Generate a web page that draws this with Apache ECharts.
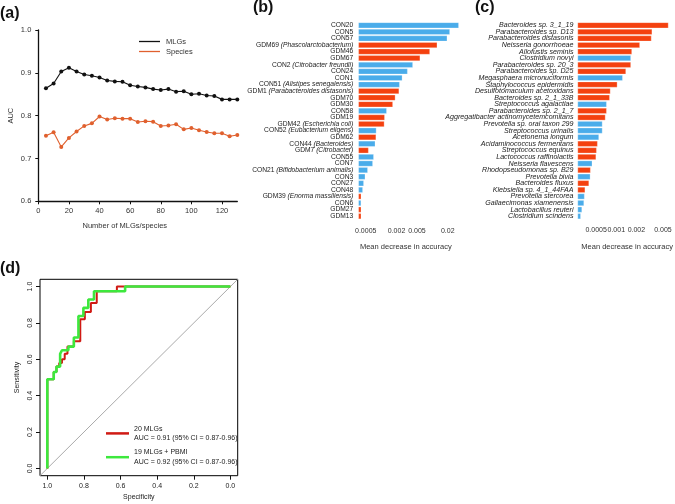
<!DOCTYPE html>
<html><head><meta charset="utf-8">
<script src="https://cdn.jsdelivr.net/npm/echarts@6/dist/echarts.min.js"></script>
<style>html,body{margin:0;padding:0;background:#fff}#c{width:675px;height:504px}</style>
</head><body><div id="c"></div>
<script>
// ---------- panel (a) ----------
const nFeatures = [5,10,15,20,25,30,35,40,45,50,55,60,65,70,75,80,85,90,95,100,105,110,115,120,125,130];
const aucMLGs = [0.864,0.875,0.903,0.912,0.903,0.896,0.893,0.889,0.882,0.880,0.879,0.871,0.868,0.866,0.862,0.860,0.862,0.856,0.857,0.850,0.851,0.847,0.846,0.838,0.838,0.838];
const aucSpecies = [0.753,0.761,0.727,0.748,0.763,0.776,0.782,0.798,0.791,0.794,0.793,0.793,0.785,0.787,0.786,0.776,0.777,0.780,0.768,0.771,0.766,0.762,0.759,0.759,0.752,0.755];
const aTicksX = [0,20,40,60,80,100,120];

// ---------- panel (b) ----------
const bNames = ['CON20','CON5','CON57','GDM69','GDM46','GDM67','CON2','CON24','CON1','CON51','GDM1','GDM70','GDM30','CON58','GDM19','GDM42','CON52','GDM62','CON44','GDM7','CON55','CON7','CON21','CON3','CON27','CON48','GDM39','CON6','GDM27','GDM13'];
const bTaxa = ['','','','Phascolarctobacterium','','','Citrobacter freundii','','','Alistipes senegalensis','Parabacteroides distasonis','','','','','Escherichia coli','Eubacterium eligens','','Bacteroides','Citrobacter','','','Bifidobacterium animalis','','','','Enorma massiliensis','','',''];
const bValues = [0.033,0.0221,0.0196,0.0125,0.0090,0.0058,0.00418,0.0033,0.0026,0.00231,0.00225,0.0019,0.0017,0.00129,0.00118,0.00116,0.00081,0.0008,0.00077,0.00057,0.00072,0.00069,0.00055,0.00049,0.00046,0.00044,0.00041,0.000408,0.00041,0.00041];
const bTicks = [0.0005,0.002,0.005,0.02];
const bRange = [0.000358,0.0257];

// ---------- panel (c) ----------
const cNames = ['Bacteroides sp. 3_1_19','Parabacteroides sp. D13','Parabacteroides distasonis','Neisseria gonorrhoeae','Allofustis seminis','Clostridium novyi','Parabacteroides sp. 20_3','Parabacteroides sp. D25','Megasphaera micronuciformis','Staphylococcus epidermidis','Desulfotomaculum acetoxidans','Bacteroides sp. 2_1_33B','Streptococcus agalactiae','Parabacteroides sp. 2_1_7','Aggregatibacter actinomycetemcomitans','Prevotella sp. oral taxon 299','Streptococcus urinalis','Acetonema longum','Acidaminococcus fermentans','Streptococcus equinus','Lactococcus raffinolactis','Neisseria flavescens','Rhodopseudomonas sp. B29','Prevotella bivia','Bacteroides fluxus','Klebsiella sp. 4_1_44FAA','Prevotella stercorea','Gallaecimonas xiamenensis','Lactobacillus reuteri','Clostridium scindens'];
const cGroup = ['GDM','GDM','GDM','GDM','GDM','CON','GDM','GDM','CON','GDM','GDM','GDM','CON','GDM','GDM','CON','CON','CON','GDM','GDM','GDM','CON','GDM','CON','GDM','GDM','CON','CON','CON','CON'];
const cValues = [0.00605,0.00345,0.00337,0.00226,0.00172,0.00166,0.00166,0.0014,0.00125,0.00104,0.00082,0.0008,0.00072,0.00072,0.00069,0.000622,0.000622,0.000552,0.000527,0.00051,0.0005,0.000438,0.000414,0.00041,0.000392,0.000343,0.000336,0.00033,0.000308,0.000295];
const cTicks = [0.0005,0.001,0.002,0.005];
const cRange = [0.000263,0.00532];

// ---------- panel (d) ----------
const rocRedSpec = [1,1,0.965,0.965,0.95,0.95,0.935,0.935,0.92,0.92,0.905,0.905,0.89,0.89,0.855,0.855,0.82,0.82,0.795,0.795,0.762,0.762,0.73,0.73,0.62,0.62,0];
const rocRedSens = [0,0.49,0.49,0.53,0.53,0.56,0.56,0.58,0.58,0.60,0.60,0.63,0.63,0.67,0.67,0.70,0.70,0.82,0.82,0.86,0.86,0.91,0.91,0.974,0.974,1,1];
const rocGreenSpec = [1,1,0.965,0.965,0.95,0.95,0.93,0.93,0.92,0.92,0.885,0.885,0.855,0.855,0.83,0.83,0.803,0.803,0.776,0.776,0.745,0.745,0.575,0.575,0];
const rocGreenSens = [0,0.49,0.49,0.53,0.53,0.56,0.56,0.63,0.63,0.65,0.65,0.67,0.67,0.72,0.72,0.838,0.838,0.883,0.883,0.929,0.929,0.974,0.974,1,1];
const rocTicks = [0,0.2,0.4,0.6,0.8,1.0];
const rocRange = [-0.04,1.04];
const rocLegend = {'20 MLGs':'AUC = 0.91 (95% CI = 0.87-0.96)','19 MLGs + PBMI':'AUC = 0.92 (95% CI = 0.87-0.96)'};

// ---------- styles ----------
const BLUE = '#4AACEA', RED = '#F4410F', ORANGE = '#E0602E';
const FONT = 'Liberation Sans';
const lg = (v, r) => Math.log10(v / r[0]);
const tickFmt = (ticks, r) => v => { const t = ticks.find(t => Math.abs(lg(t, r) - v) < 1e-6); return t === undefined ? '' : String(t); };
const pair = (a, b) => a.map((x, i) => [x, b[i]]);

const chart = echarts.init(document.getElementById('c'), null, {renderer: 'canvas'});
const labelStyle = {fontFamily: FONT, color: '#333'};
chart.setOption({
  animation: false,
  backgroundColor: '#fff',
  title: [
    {text: '(a)', left: 0, top: 6, padding: 0, textStyle: {fontFamily: FONT, fontSize: 16, fontWeight: 'bold', color: '#111'}},
    {text: '(b)', left: 253, top: 0, padding: 0, textStyle: {fontFamily: FONT, fontSize: 16, fontWeight: 'bold', color: '#111'}},
    {text: '(c)', left: 475, top: 0, padding: 0, textStyle: {fontFamily: FONT, fontSize: 16, fontWeight: 'bold', color: '#111'}},
    {text: '(d)', left: 0, top: 261, padding: 0, textStyle: {fontFamily: FONT, fontSize: 16, fontWeight: 'bold', color: '#111'}}
  ],
  legend: [
    {data: ['MLGs','Species'], orient: 'vertical', left: 139, top: 37.5, padding: 0, itemGap: 2, itemWidth: 21, itemHeight: 1.3, icon: 'rect',
     textStyle: {fontFamily: FONT, fontSize: 7.5, color: '#333', padding: [0,0,0,1]}},
    {data: ['20 MLGs','19 MLGs + PBMI'], orient: 'vertical', left: 106, top: 424, padding: 0, itemGap: 5, itemWidth: 23, itemHeight: 2.5, icon: 'rect',
     formatter: n => n + '\n' + rocLegend[n],
     textStyle: {fontFamily: FONT, fontSize: 7, lineHeight: 9.4, color: '#222'}}
  ],
  grid: [
    {left: 38.3, top: 30, width: 199, height: 171.3},
    {left: 358.3, top: 22, width: 95, height: 197.5},
    {left: 577.5, top: 22, width: 90.8, height: 197.5},
    {left: 40, top: 279.3, width: 197.7, height: 196.4, show: true, borderColor: '#000', borderWidth: 1, backgroundColor: 'transparent'}
  ],
  xAxis: [
    {gridIndex: 0, type: 'value', min: 0, max: 130, name: 'Number of MLGs/species', nameLocation: 'middle', nameGap: 21,
     nameTextStyle: {fontFamily: FONT, fontSize: 7.5, color: '#333', padding: [0, 26, 0, 0]},
     axisLine: {lineStyle: {color: '#111', width: 1.3}}, axisTick: {customValues: aTicksX, length: 3, lineStyle: {color: '#111'}},
     axisLabel: Object.assign({customValues: aTicksX, fontSize: 7.5, margin: 6}, labelStyle), splitLine: {show: false}},
    {gridIndex: 1, type: 'value', min: 0, max: lg(bRange[1], bRange), offset: 4.5, name: 'Mean decrease in accuracy', nameLocation: 'middle', nameGap: 19,
     nameTextStyle: {fontFamily: FONT, fontSize: 7.5, color: '#333'},
     axisLine: {lineStyle: {color: '#111', width: 1.2}}, axisTick: {customValues: bTicks.map(t => lg(t, bRange)), length: 3, lineStyle: {color: '#111'}},
     axisLabel: Object.assign({customValues: bTicks.map(t => lg(t, bRange)), fontSize: 7, margin: 4, formatter: tickFmt(bTicks, bRange)}, labelStyle), splitLine: {show: false}},
    {gridIndex: 2, type: 'value', min: 0, max: lg(cRange[1], cRange), offset: 3, name: 'Mean decrease in accuracy', nameLocation: 'middle', nameGap: 20,
     nameTextStyle: {fontFamily: FONT, fontSize: 7.5, color: '#333', padding: [0, 0, 0, 12]},
     axisLine: {lineStyle: {color: '#111', width: 1.2}}, axisTick: {customValues: cTicks.map(t => lg(t, cRange)), length: 3, lineStyle: {color: '#111'}},
     axisLabel: Object.assign({customValues: cTicks.map(t => lg(t, cRange)), fontSize: 7, margin: 4, formatter: tickFmt(cTicks, cRange)}, labelStyle), splitLine: {show: false}},
    {gridIndex: 3, type: 'value', inverse: true, min: rocRange[0], max: rocRange[1], name: 'Specificity', nameLocation: 'middle', nameGap: 18,
     nameTextStyle: {fontFamily: FONT, fontSize: 7, color: '#222'},
     axisLine: {show: false, onZero: false}, axisTick: {customValues: rocTicks, length: 4, lineStyle: {color: '#111'}},
     axisLabel: {customValues: rocTicks, fontFamily: FONT, fontSize: 7, color: '#222', margin: 7, formatter: v => v.toFixed(1)}, splitLine: {show: false}}
  ],
  yAxis: [
    {gridIndex: 0, type: 'value', min: 0.6, max: 1.0, interval: 0.1, name: 'AUC', nameLocation: 'middle', nameGap: 23,
     nameTextStyle: {fontFamily: FONT, fontSize: 7.5, color: '#333'},
     axisLine: {show: true, lineStyle: {color: '#111', width: 1.3}}, axisTick: {show: true, length: 3, lineStyle: {color: '#111'}},
     axisLabel: Object.assign({fontSize: 7.5, margin: 7, formatter: v => v.toFixed(1)}, labelStyle), splitLine: {show: false}},
    {gridIndex: 1, type: 'category', data: bNames, inverse: true, axisLine: {show: false}, axisTick: {show: false},
     axisLabel: {interval: 0, margin: 5, fontFamily: FONT, fontSize: 6.7, color: '#222',
       formatter: (v, i) => bTaxa[i] ? v + ' {i|(' + bTaxa[i] + ')}' : v,
       rich: {i: {fontFamily: FONT, fontSize: 6.7, fontStyle: 'italic', color: '#222'}}}},
    {gridIndex: 2, type: 'category', data: cNames, inverse: true, axisLine: {show: false}, axisTick: {show: false},
     axisLabel: {interval: 0, margin: 4, fontFamily: FONT, fontSize: 7.1, fontStyle: 'italic', color: '#222'}},
    {gridIndex: 3, type: 'value', min: rocRange[0], max: rocRange[1], name: 'Sensitivity', nameLocation: 'middle', nameGap: 19,
     nameTextStyle: {fontFamily: FONT, fontSize: 7, color: '#222'},
     axisLine: {show: false, onZero: false}, axisTick: {customValues: rocTicks, length: 4, lineStyle: {color: '#111'}},
     axisLabel: {customValues: rocTicks, rotate: 90, fontFamily: FONT, fontSize: 7, color: '#222', margin: 6, formatter: v => v.toFixed(1)}, splitLine: {show: false}}
  ],
  series: [
    {name: 'MLGs', type: 'line', xAxisIndex: 0, yAxisIndex: 0, data: pair(nFeatures, aucMLGs), symbol: 'circle', symbolSize: 4,
     itemStyle: {color: '#111'}, lineStyle: {color: '#111', width: 1.1}},
    {name: 'Species', type: 'line', xAxisIndex: 0, yAxisIndex: 0, data: pair(nFeatures, aucSpecies), symbol: 'circle', symbolSize: 4,
     itemStyle: {color: ORANGE}, lineStyle: {color: ORANGE, width: 1.1}},
    {type: 'bar', xAxisIndex: 1, yAxisIndex: 1, clip: false, barCategoryGap: '10%',
     data: bValues.map((v, i) => ({value: lg(v, bRange), itemStyle: {color: bNames[i].startsWith('GDM') ? RED : BLUE}})),
     itemStyle: {borderColor: 'rgba(255,255,255,0.45)', borderWidth: 0.6}},
    {type: 'bar', xAxisIndex: 2, yAxisIndex: 2, clip: false, barCategoryGap: '10%',
     data: cValues.map((v, i) => ({value: lg(v, cRange), itemStyle: {color: cGroup[i] === 'GDM' ? RED : BLUE}})),
     itemStyle: {borderColor: 'rgba(255,255,255,0.45)', borderWidth: 0.6}},
    {type: 'line', xAxisIndex: 3, yAxisIndex: 3, data: [[rocRange[1], rocRange[0]], [rocRange[0], rocRange[1]]], symbol: 'none', silent: true,
     lineStyle: {color: '#aaa', width: 1}},
    {name: '20 MLGs', type: 'line', xAxisIndex: 3, yAxisIndex: 3, data: pair(rocRedSpec, rocRedSens), symbol: 'none',
     itemStyle: {color: '#D01A14'}, lineStyle: {color: '#D01A14', width: 2}},
    {name: '19 MLGs + PBMI', type: 'line', xAxisIndex: 3, yAxisIndex: 3, data: pair(rocGreenSpec, rocGreenSens), symbol: 'none',
     itemStyle: {color: '#3DE83D'}, lineStyle: {color: '#3DE83D', width: 2.6}}
  ]
});
</script></body></html>
